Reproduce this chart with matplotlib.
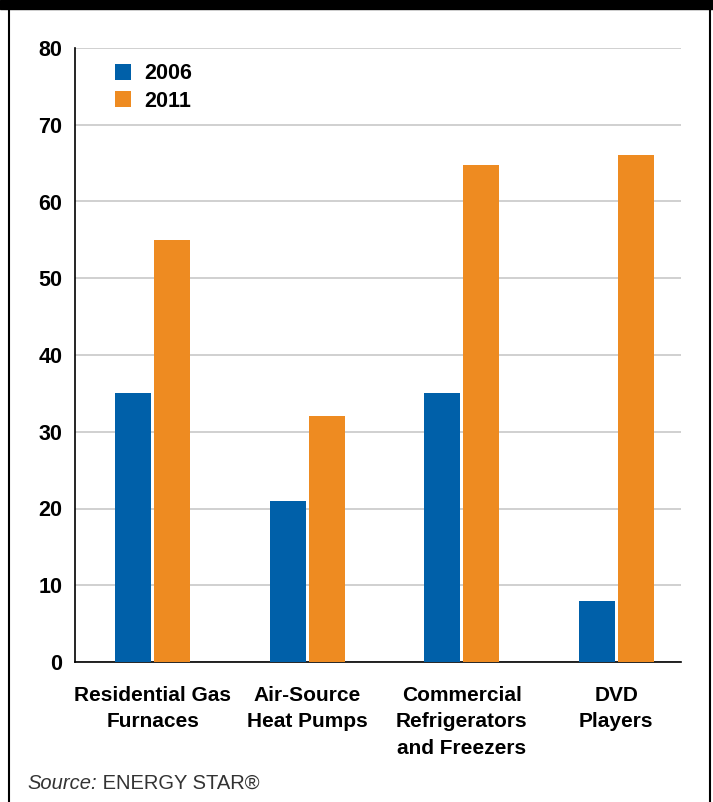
import numpy as np
import matplotlib.pyplot as plt
from matplotlib.patches import Rectangle

categories = ['Residential Gas\nFurnaces', 'Air-Source\nHeat Pumps',
              'Commercial\nRefrigerators\nand Freezers', 'DVD\nPlayers']
years = ['2006', '2011']
vals_2006 = [35, 21, 35, 8]
vals_2011 = [55, 32, 64.7, 66]
yticks = [0, 10, 20, 30, 40, 50, 60, 70, 80]

blue = '#0060a9'
orange = '#ee8b21'
font = 'Liberation Sans'

fig = plt.figure(figsize=(7.13, 8.02), dpi=100)
ax = fig.add_axes([75/713, 1-662/802, 606/713, 614/802])

x = np.arange(len(categories))
w = 0.233
off = 0.126
ax.bar(x - off, vals_2006, w, color=blue, label=years[0], zorder=3)
ax.bar(x + off, vals_2011, w, color=orange, label=years[1], zorder=3)

ax.set_xlim(-0.502, 3.42)
ax.set_ylim(0, 80)
ax.set_yticks(yticks)
ax.set_yticklabels([str(t) for t in yticks], fontsize=15.5, fontweight='bold', family=font)
ax.set_xticks(x)
ax.set_xticklabels(categories, fontsize=15, fontweight='bold', family=font, linespacing=1.5)
ax.tick_params(axis='both', length=0)
ax.tick_params(axis='y', pad=9)
ax.tick_params(axis='x', pad=17)
ax.grid(axis='y', color='#c8c8c8', linewidth=1.2, zorder=0)
ax.set_axisbelow(True)
for s in ['top', 'right']:
    ax.spines[s].set_visible(False)
ax.spines['left'].set_linewidth(1.2)
ax.spines['bottom'].set_linewidth(1.2)

ax.legend(loc='upper left', bbox_to_anchor=(0.066, 0.975), frameon=False,
          prop={'family': font, 'weight': 'bold', 'size': 15.5},
          handlelength=0.75, handleheight=0.75, handletextpad=0.6,
          labelspacing=0.3, borderpad=0, borderaxespad=0)

# frame around the figure
fig.patches.append(Rectangle((0, 1-9/802), 1, 9/802, transform=fig.transFigure,
                             color='black', zorder=5))
fig.add_artist(plt.Line2D([9/713, 9/713], [0, 1], color='black', linewidth=1.5,
                          transform=fig.transFigure))
fig.add_artist(plt.Line2D([710/713, 710/713], [0, 1], color='black', linewidth=1.5,
                          transform=fig.transFigure))

src = fig.text(27/713, 1-789/802, 'Source:', fontsize=14.5, style='italic',
               family=font, color='#333333', va='baseline')
fig.canvas.draw()
ax.annotate(' ENERGY STAR®', xy=(1, 0), xycoords=src, fontsize=14.5,
            family=font, color='#333333', va='bottom', annotation_clip=False)

fig.savefig('out.png', dpi=100)
